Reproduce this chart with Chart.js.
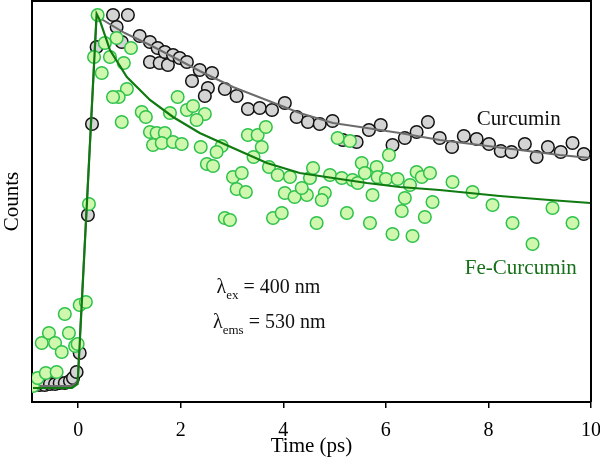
<!DOCTYPE html>
<html>
<head>
<meta charset="utf-8">
<script src="https://cdn.jsdelivr.net/npm/chart.js@4/dist/chart.umd.min.js"></script>
<style>html,body{margin:0;padding:0;background:#fff;}canvas{display:block;}</style>
</head>
<body>
<canvas id="c" width="600" height="463"></canvas>
<script>
// ---- Data (time in ps, counts in arbitrary units) ----
const curcuminX = [-0.88,-0.75,-0.65,-0.55,-0.45,-0.36,-0.26,-0.16,-0.10,-0.03,0.03,0.19,0.27,0.36,0.68,0.75,0.85,0.97,1.20,1.40,1.40,1.55,1.59,1.69,1.75,1.85,1.98,2.12,2.22,2.37,2.61,2.53,2.47,2.86,3.09,3.31,3.54,3.78,4.03,4.26,4.48,4.71,4.96,5.16,5.43,5.67,5.90,6.13,6.37,6.60,6.82,7.05,7.29,7.52,7.77,8.01,8.24,8.45,8.71,8.94,9.16,9.41,9.64,9.86];
const curcuminY = [1,1,1,2,2,3,3,5,8,14,33,171,262,339,371,359,344,371,350,344,324,338,323,334,321,331,328,324,305,316,313,298,290,297,290,277,278,276,283,269,264,262,265,246,244,256,261,241,248,254,264,248,239,250,247,242,235,234,242,229,239,234,243,232];

const feCurcuminX = [-0.88,-0.79,-0.63,-0.42,-0.71,-0.57,-0.45,-0.32,-0.26,-0.18,-0.06,-0.01,0.03,0.15,0.21,0.38,0.52,0.31,0.75,0.62,1.03,0.89,0.46,0.95,0.79,0.68,0.85,1.24,1.32,1.40,1.53,1.69,1.46,1.63,1.85,2.02,1.79,1.94,2.12,2.24,2.47,2.31,2.39,2.80,2.70,2.51,2.63,3.02,3.19,3.09,3.27,3.31,3.50,3.66,3.58,3.42,3.72,3.89,4.13,4.03,4.22,4.46,4.36,4.52,4.58,2.86,2.96,3.80,3.97,4.65,4.81,4.75,4.91,5.06,5.30,5.14,5.35,5.45,5.53,5.59,5.82,5.84,6.00,6.06,5.74,6.23,6.47,6.60,6.70,6.86,6.37,6.91,6.31,5.24,6.76,5.69,6.13,6.52,7.30,7.69,8.08,8.47,8.86,9.25,9.64];
const feCurcuminY = [0,8,13,14,43,53,43,34,72,53,40,42,81,84,182,371,343,329,348,329,338,323,313,297,289,289,264,274,269,254,253,253,241,243,244,242,273,289,276,280,272,266,239,240,234,222,220,209,213,197,194,251,251,259,239,229,219,211,209,193,189,191,198,208,218,168,166,168,173,163,193,186,211,248,245,208,206,203,223,213,219,209,207,231,191,207,201,214,209,213,188,184,175,173,169,163,152,150,204,194,181,163,142,178,163];

const curcuminFitX = [-0.88,-0.12,-0.01,0.36,0.42,0.91,1.40,1.89,2.37,3.02,3.67,4.32,4.97,5.63,6.27,7.05,7.83,8.61,9.39,9.99];
const curcuminFitY = [0,0,5,371,368,353,341,328,315,299,286,273,263,258,253,246,241,236,231,228];

const feCurcuminFitX = [-0.88,-0.12,-0.01,0.36,0.42,0.62,0.95,1.40,1.85,2.37,3.02,3.68,4.32,4.97,5.63,6.27,7.05,8.22,9.19,9.99];
const feCurcuminFitY = [-2,-2,2,372,366,336,309,286,269,253,238,223,213,208,203,199,196,190,186,183];

const xTicks = [0,2,4,6,8,10];
const xRange = [-0.9, 10];
const yRange = [-16, 385];

// Annotation anchors (data coordinates)
const labelCurcumin = {text:'Curcumin', x:7.77, y:261};
const labelFe = {text:'Fe-Curcumin', x:7.54, y:112};
const labelEx = {sub:'ex', rest:' = 400 nm', x:2.70, y:93};
const labelEms = {sub:'ems', rest:' = 530 nm', x:2.63, y:58};

const pts = (xs, ys) => xs.map((x,i)=>({x, y: ys[i]}));
const SERIF = "'Liberation Serif','Times New Roman',serif";

const annot = {
  id:'annot',
  afterDatasetsDraw(chart){
    const {ctx, scales:{x, y}} = chart;
    ctx.save();
    ctx.textBaseline = 'alphabetic';
    ctx.textAlign = 'left';
    ctx.font = '21px ' + SERIF;
    ctx.fillStyle = '#111';
    ctx.fillText(labelCurcumin.text, x.getPixelForValue(labelCurcumin.x), y.getPixelForValue(labelCurcumin.y));
    ctx.fillStyle = '#17701a';
    ctx.fillText(labelFe.text, x.getPixelForValue(labelFe.x), y.getPixelForValue(labelFe.y));
    ctx.fillStyle = '#111';
    for (const L of [labelEx, labelEms]) {
      let px = x.getPixelForValue(L.x), py = y.getPixelForValue(L.y);
      ctx.font = '20px ' + SERIF;
      ctx.fillText('\u03bb', px, py);
      px += ctx.measureText('\u03bb').width;
      ctx.font = '13px ' + SERIF;
      ctx.fillText(L.sub, px, py + 6);
      px += ctx.measureText(L.sub).width;
      ctx.font = '20px ' + SERIF;
      ctx.fillText(L.rest, px, py);
    }
    ctx.restore();
  },
  afterDraw(chart){
    const {ctx, chartArea:a} = chart;
    ctx.save();
    ctx.strokeStyle = '#000';
    ctx.lineWidth = 2;
    ctx.beginPath();
    ctx.moveTo(a.left, a.top); ctx.lineTo(a.right, a.top); ctx.lineTo(a.right, a.bottom);
    ctx.stroke();
    ctx.restore();
  }
};

new Chart(document.getElementById('c'), {
  type:'scatter',
  data:{
    datasets:[
      {label:'Fe-Curcumin fit', data:pts(feCurcuminFitX, feCurcuminFitY), showLine:true, borderColor:'#0f7a10', borderWidth:2.2, pointRadius:0, fill:false, order:0},
      {label:'Fe-Curcumin', data:pts(feCurcuminX, feCurcuminY), backgroundColor:'#cff7ae', borderColor:'#2dc24a', borderWidth:1.5, pointRadius:6.3, order:1},
      {label:'Curcumin fit', data:pts(curcuminFitX, curcuminFitY), showLine:true, borderColor:'#6c6c6c', borderWidth:2, pointRadius:0, fill:false, order:2},
      {label:'Curcumin', data:pts(curcuminX, curcuminY), backgroundColor:'#d4d4d4', borderColor:'#111', borderWidth:1.5, pointRadius:6.3, order:3}
    ]
  },
  options:{
    responsive:false,
    animation:false,
    layout:{autoPadding:false, padding:{left:0, right:9, top:1, bottom:0}},
    plugins:{legend:{display:false}, tooltip:{enabled:false}},
    scales:{
      x:{
        type:'linear', min:xRange[0], max:xRange[1],
        afterBuildTicks: s => { s.ticks = xTicks.map(v=>({value:v})); },
        afterFit: s => { s.height = 61; s.paddingLeft = 0; s.paddingRight = 0; },
        grid:{display:true, drawOnChartArea:false, drawTicks:true, tickLength:6, color:'#000', lineWidth:1.5},
        border:{display:true, color:'#000', width:2},
        ticks:{font:{family:SERIF, size:20}, color:'#000', padding:11, maxRotation:0},
        title:{display:true, text:'Time (ps)', font:{family:SERIF, size:21}, color:'#000', padding:{top:0, bottom:4}}
      },
      y:{
        type:'linear', min:yRange[0], max:yRange[1],
        afterFit: s => { s.width = 32; s.paddingTop = 0; s.paddingBottom = 0; },
        grid:{display:false},
        border:{display:true, color:'#000', width:2},
        ticks:{display:false},
        title:{display:true, text:'Counts', font:{family:SERIF, size:21}, color:'#000', padding:{top:0, bottom:0}}
      }
    }
  },
  plugins:[annot]
});
</script>
</body>
</html>
